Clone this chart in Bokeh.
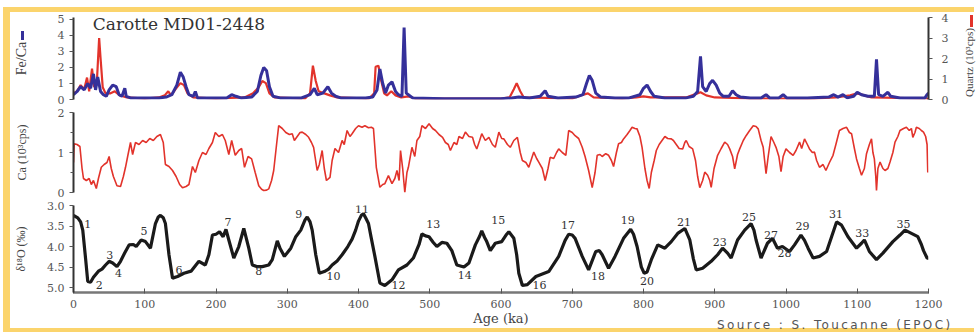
from bokeh.plotting import figure
from bokeh.layouts import column
from bokeh.models import Range1d, LinearAxis, FixedTicker, Label, NumeralTickFormatter, Div
from bokeh.core.properties import value
from bokeh.embed import file_html
from bokeh.resources import INLINE

# ---------------- data ----------------
fe_age = [0, 5, 10, 15, 20, 24, 28, 31, 34, 38, 42, 46, 50, 55, 60, 64, 68, 72, 74, 80, 100, 120, 130, 138,
          145, 150, 154, 158, 162, 168, 171, 174, 200, 215, 222, 228, 235, 250, 258, 263, 267, 271, 275, 280,
          290, 320, 332, 338, 342, 350, 357, 362, 368, 375, 410, 420, 426, 430, 434, 438, 442, 447, 452, 456,
          461, 464, 467, 470, 476, 520, 600, 615, 625, 640, 655, 662, 666, 680, 705, 715, 720, 724, 728, 733,
          740, 760, 780, 795, 800, 805, 810, 815, 830, 860, 870, 876, 880, 883, 888, 893, 897, 902, 907, 912,
          920, 925, 930, 936, 950, 965, 972, 977, 990, 996, 1001, 1030, 1060, 1067, 1073, 1080, 1086, 1095,
          1100, 1106, 1115, 1124, 1127, 1130, 1136, 1143, 1147, 1160, 1180, 1195, 1198, 1200]
fe_val = [0.3, 0.5, 0.8, 0.6, 1.0, 0.7, 1.6, 0.6, 1.4, 0.5, 0.3, 0.2, 0.6, 0.9, 0.8, 0.3, 0.2, 0.7, 0.2, 0.1,
          0.1, 0.1, 0.15, 0.3, 0.9, 1.7, 1.4, 0.8, 0.3, 0.2, 0.5, 0.1, 0.1, 0.1, 0.3, 0.2, 0.1, 0.15, 0.5, 1.5,
          2.0, 1.8, 0.8, 0.2, 0.1, 0.1, 0.3, 0.7, 0.3, 0.4, 0.8, 0.4, 0.2, 0.1, 0.1, 0.15, 0.6, 1.9, 1.0, 0.4,
          0.9, 1.1, 0.5, 0.3, 0.2, 4.5, 0.4, 0.3, 0.1, 0.05, 0.05, 0.1, 0.15, 0.1, 0.2, 0.55, 0.2, 0.1, 0.15,
          0.3, 1.0, 1.5, 1.2, 0.4, 0.15, 0.1, 0.1, 0.3, 0.7, 0.9, 0.5, 0.2, 0.1, 0.1, 0.2, 0.5, 2.7, 0.8, 0.5,
          1.0, 1.2, 0.9, 0.4, 0.2, 0.2, 0.55, 0.3, 0.15, 0.1, 0.1, 0.3, 0.1, 0.1, 0.3, 0.1, 0.1, 0.15, 0.3,
          0.15, 0.3, 0.1, 0.2, 0.45, 0.3, 0.2, 0.2, 2.5, 0.3, 0.2, 0.45, 0.2, 0.1, 0.1, 0.1, 0.3, 0.4]

qz_age = [0, 5, 10, 15, 19, 22, 26, 29, 33, 36, 38, 41, 45, 52, 58, 65, 75, 100, 120, 128, 133, 137, 143, 150,
          155, 160, 168, 200, 240, 252, 260, 265, 270, 275, 282, 325, 332, 336, 340, 344, 352, 360, 370, 415,
          422, 424, 428, 432, 436, 440, 446, 452, 460, 470, 480, 600, 612, 618, 622, 627, 632, 700, 712, 722,
          730, 770, 790, 800, 810, 860, 872, 880, 888, 900, 950, 1000, 1040, 1070, 1090, 1100, 1110, 1120, 1200]
qz_val = [0.3, 0.4, 0.7, 0.5, 1.07, 0.4, 1.5, 0.6, 1.0, 3.0, 2.0, 0.6, 0.3, 0.3, 0.4, 0.2, 0.1, 0.05, 0.1, 0.2,
          0.4, 0.2, 0.5, 0.8, 0.7, 0.3, 0.1, 0.05, 0.1, 0.3, 0.6, 0.9, 0.8, 0.3, 0.1, 0.05, 0.3, 1.65, 0.9, 0.4,
          0.3, 0.2, 0.1, 0.05, 0.3, 1.6, 1.65, 0.9, 0.3, 0.2, 0.4, 0.2, 0.1, 0.15, 0.05, 0.05, 0.1, 0.5, 0.8,
          0.4, 0.1, 0.05, 0.2, 0.3, 0.1, 0.05, 0.1, 0.15, 0.1, 0.1, 0.25, 0.35, 0.2, 0.1, 0.05, 0.05, 0.05, 0.1,
          0.2, 0.3, 0.2, 0.1, 0.05]

ca_age = [0, 1, 5, 9, 12, 14, 18, 22, 25, 28, 32, 35, 39, 43, 47, 50, 53, 56, 61, 66, 70, 73, 76, 80, 83, 87,
          92, 97, 102, 107, 112, 117, 122, 126, 129, 134, 139, 144, 149, 153, 158, 162, 167, 171, 176, 181,
          186, 190, 195, 199, 204, 209, 213, 218, 222, 227, 232, 236, 240, 245, 250, 255, 260, 264, 267, 271,
          274, 278, 281, 285, 288, 293, 298, 303, 307, 310, 314, 318, 321, 326, 330, 334, 337, 342, 345, 349,
          352, 355, 360, 363, 367, 372, 377, 380, 384, 388, 391, 396, 400, 405, 409, 414, 418, 421, 425, 430,
          434, 437, 442, 447, 451, 454, 457, 459, 462, 465, 468, 470, 475, 479, 482, 486, 489, 494, 499, 504,
          508, 513, 518, 522, 526, 529, 534, 538, 541, 546, 550, 555, 560, 563, 566, 570, 573, 578, 583, 588,
          592, 597, 601, 604, 609, 613, 618, 623, 627, 630, 635, 639, 643, 646, 650, 653, 658, 662, 666, 669,
          674, 678, 681, 686, 691, 695, 700, 704, 709, 714, 718, 723, 728, 732, 735, 739, 742, 747, 751, 755,
          758, 762, 765, 769, 772, 777, 781, 784, 788, 791, 795, 798, 802, 805, 808, 811, 815, 818, 822, 826,
          830, 834, 839, 842, 846, 850, 855, 858, 860, 864, 869, 873, 876, 879, 883, 886, 890, 893, 895, 899,
          904, 909, 914, 918, 921, 925, 928, 932, 935, 940, 944, 949, 954, 958, 961, 965, 968, 970, 972, 975,
          979, 983, 986, 990, 993, 996, 1000, 1005, 1010, 1014, 1019, 1022, 1026, 1030, 1033, 1037, 1040, 1043,
          1047, 1052, 1056, 1061, 1066, 1070, 1075, 1080, 1085, 1089, 1092, 1096, 1099, 1103, 1106, 1110,
          1113, 1117, 1120, 1122, 1124, 1126, 1127, 1129, 1132, 1136, 1139, 1143, 1146, 1150, 1153, 1157,
          1160, 1165, 1169, 1173, 1176, 1178, 1181, 1183, 1187, 1190, 1193, 1196, 1198, 1199]
ca_val = [0.75, 1.22, 1.2, 1.15, 0.6, 0.35, 0.3, 0.35, 0.2, 0.3, 0.1, 0.35, 0.63, 0.7, 0.75, 0.9, 0.6, 0.4,
          0.17, 0.15, 0.4, 0.63, 0.9, 1.25, 0.95, 1.25, 1.2, 1.3, 1.25, 1.35, 1.3, 1.4, 1.45, 1.25, 0.7, 0.65,
          0.55, 0.4, 0.2, 0.12, 0.15, 0.2, 0.65, 0.5, 0.8, 1.0, 0.95, 1.1, 1.25, 1.5, 1.4, 1.45, 1.3, 0.95, 1.3,
          0.93, 1.05, 1.1, 0.63, 0.9, 0.84, 0.5, 0.17, 0.08, 0.05, 0.06, 0.09, 0.3, 0.55, 1.2, 1.67, 1.6, 1.5,
          1.45, 1.47, 1.3, 1.4, 1.5, 1.51, 1.45, 1.38, 1.25, 1.13, 0.55, 0.7, 1.05, 0.6, 0.3, 0.38, 0.8, 1.1,
          1.0, 1.3, 1.2, 1.55, 1.4, 1.47, 1.6, 1.67, 1.63, 1.67, 1.62, 1.63, 1.6, 0.63, 0.13, 0.2, 0.22, 0.42,
          0.22, 0.35, 0.55, 0.3, 1.05, 0.6, 0.0, 0.5, 0.63, 1.13, 0.9, 1.3, 1.4, 1.67, 1.6, 1.72, 1.6, 1.55,
          1.45, 1.38, 1.25, 1.2, 1.05, 1.25, 1.2, 1.4, 1.35, 1.51, 1.4, 1.38, 1.2, 1.09, 1.3, 1.47, 1.3, 1.38,
          1.2, 1.13, 1.51, 1.35, 1.34, 1.2, 1.13, 1.3, 1.38, 1.0, 0.8, 0.75, 0.63, 0.85, 1.01, 0.85, 0.76, 0.6,
          0.3, 0.6, 0.88, 0.85, 1.0, 1.09, 1.0, 0.93, 1.55, 1.5, 1.42, 1.35, 1.13, 0.9, 0.55, 0.12, 0.5, 0.93,
          0.95, 0.9, 0.97, 0.93, 0.8, 0.65, 1.0, 1.22, 1.25, 1.34, 1.45, 1.55, 1.63, 1.6, 1.59, 1.4, 1.13, 0.6,
          0.3, 0.1, 0.5, 0.8, 1.05, 1.2, 1.3, 1.4, 1.35, 1.34, 1.3, 1.2, 1.1, 1.09, 1.25, 1.3, 1.15, 1.09, 0.8,
          0.4, 0.12, 0.3, 0.51, 0.43, 0.3, 0.13, 0.6, 0.93, 1.1, 1.26, 1.2, 1.09, 0.9, 0.59, 0.95, 1.09, 1.3,
          1.42, 1.55, 1.67, 1.65, 1.59, 1.3, 1.13, 0.8, 0.47, 0.9, 1.4, 1.25, 1.13, 0.9, 0.52, 0.9, 1.09, 1.0,
          0.93, 1.05, 1.26, 1.1, 1.34, 1.2, 1.09, 1.0, 1.01, 0.8, 0.63, 0.7, 0.55, 0.75, 0.93, 1.2, 1.55, 1.6,
          1.63, 1.5, 1.47, 1.1, 0.84, 0.6, 0.43, 0.6, 0.97, 1.2, 1.34, 1.0, 0.84, 0.4, 0.05, 0.6, 0.76, 0.6,
          0.55, 0.6, 0.76, 1.0, 1.26, 1.4, 1.55, 1.6, 1.63, 1.55, 1.6, 1.38, 1.5, 1.63, 1.6, 1.55, 1.51, 1.4,
          1.2, 0.5]

d18_age = [0, 6, 10, 13, 17, 20, 24, 28, 35, 40, 45, 50, 55, 61, 66, 72, 78, 84, 88, 95, 101, 108, 115, 119,
           122, 126, 129, 134, 139, 146, 155, 165, 176, 185, 190, 195, 200, 205, 210, 214, 218, 225, 232, 239,
           246, 251, 258, 265, 274, 279, 286, 290, 296, 305, 312, 319, 325, 328, 332, 335, 340, 345, 352, 358,
           363, 370, 377, 385, 391, 396, 400, 404, 407, 410, 414, 418, 423, 430, 437, 447, 456, 468, 477, 485,
           489, 494, 499, 505, 510, 517, 524, 531, 538, 548, 555, 564, 570, 573, 577, 580, 585, 592, 601, 608,
           611, 618, 622, 625, 630, 637, 649, 667, 681, 690, 695, 700, 704, 714, 723, 733, 738, 742, 751, 760,
           772, 782, 786, 791, 797, 801, 805, 811, 820, 830, 839, 848, 858, 865, 870, 874, 883, 895, 904, 911,
           918, 923, 932, 942, 951, 955, 958, 965, 974, 981, 988, 995, 1005, 1012, 1021, 1026, 1031, 1038,
           1047, 1057, 1064, 1071, 1078, 1087, 1099, 1106, 1110, 1117, 1127, 1136, 1150, 1160, 1167, 1176,
           1185, 1190, 1193, 1198, 1200]
d18_val = [3.24, 3.3, 3.4, 3.6, 4.3, 4.85, 4.87, 4.75, 4.6, 4.55, 4.45, 4.36, 4.4, 4.49, 4.36, 4.15, 3.96,
           3.95, 4.0, 3.84, 3.88, 4.04, 3.44, 3.28, 3.24, 3.3, 3.44, 4.2, 4.77, 4.73, 4.65, 4.6, 4.36, 4.45,
           4.2, 3.72, 3.7, 3.64, 3.76, 3.58, 3.84, 4.28, 4.0, 3.56, 4.04, 4.45, 4.49, 4.49, 4.45, 4.32, 3.86,
           4.05, 4.24, 4.04, 3.76, 3.6, 3.35, 3.28, 3.4, 3.6, 4.2, 4.65, 4.61, 4.55, 4.45, 4.35, 4.2, 4.0, 3.82,
           3.6, 3.38, 3.24, 3.2, 3.3, 3.44, 3.8, 4.24, 4.89, 4.95, 4.81, 4.57, 4.45, 4.28, 3.95, 3.69, 3.74,
           3.76, 3.9, 4.0, 3.9, 3.92, 4.1, 4.45, 4.5, 4.4, 3.96, 3.75, 3.62, 3.78, 3.88, 4.1, 3.92, 3.88, 3.7,
           3.64, 3.8, 4.2, 4.65, 4.95, 4.93, 4.73, 4.61, 4.24, 3.85, 3.7, 3.72, 3.8, 4.24, 4.57, 4.12, 4.1, 4.2,
           4.53, 4.24, 3.8, 3.58, 3.7, 4.0, 4.5, 4.65, 4.62, 4.32, 3.96, 4.04, 3.88, 3.68, 3.56, 3.84, 4.3,
           4.57, 4.53, 4.36, 4.2, 4.04, 4.16, 4.28, 3.84, 3.6, 3.44, 3.6, 3.84, 4.28, 3.92, 3.8, 4.04, 4.0,
           4.12, 3.96, 3.72, 3.85, 4.04, 4.28, 4.24, 4.12, 3.76, 3.4, 3.48, 3.76, 4.04, 3.92, 3.84, 4.12, 4.32,
           4.16, 3.88, 3.72, 3.6, 3.68, 3.76, 3.95, 4.1, 4.28, 4.28]

mis_text = ["1", "2", "3", "4", "5", "6", "7", "8", "9", "10", "11", "12", "13", "14", "15", "16", "17", "18",
            "19", "20", "21", "23", "25", "27", "28", "29", "31", "33", "35"]
mis_age = [20, 36, 51, 63, 99, 148, 217, 260, 316, 365, 405, 456, 505, 549, 596, 654, 694, 736, 778, 805,
           857, 907, 948, 979, 998, 1023, 1070, 1107, 1165]
mis_val = [3.46, 4.93, 4.2, 4.64, 3.63, 4.56, 3.39, 4.6, 3.2, 4.73, 3.08, 4.93, 3.44, 4.69, 3.36, 4.93, 3.48,
           4.73, 3.36, 4.85, 3.39, 3.9, 3.29, 3.72, 4.16, 3.5, 3.2, 3.67, 3.44]

x_ticks = [0, 100, 200, 300, 400, 500, 600, 700, 800, 900, 1000, 1100, 1200]
fe_ticks = [0, 1, 2, 3, 4, 5]
qz_ticks = [0, 1, 2, 3, 4]
ca_ticks = [0, 1, 2]
ca_minor = [0.5, 1.5]
d18_ticks = [3.0, 3.5, 4.0, 4.5, 5.0]

# ---------------- styling ----------------
BLUE = "#35309a"
RED = "#e2332b"
YELLOW = "#fbd46c"
SERIF = "DejaVu Serif"
LABEL_SERIF = "Liberation Serif"
TICK_COLOR = "#555555"
FIG_W = 964

xr = Range1d(0, 1200)


def base_fig(height, top, bottom, yr, x_axis=False):
    p = figure(width=FIG_W, height=height, x_range=xr, y_range=yr,
               output_backend="svg", toolbar_location=None,
               x_axis_location="below" if x_axis else None,
               min_border_left=61, min_border_right=FIG_W - 61 - 857,
               min_border_top=top, min_border_bottom=bottom)
    p.outline_line_color = None
    p.grid.visible = False
    p.background_fill_color = "white"
    p.border_fill_color = "white"
    return p


def style_y(ax, ticks, label, font_size, standoff):
    ax.ticker = FixedTicker(ticks=ticks)
    ax.axis_label = label
    ax.axis_label_text_font = LABEL_SERIF
    ax.axis_label_text_font_size = font_size
    ax.axis_label_text_font_style = "normal"
    ax.axis_label_text_color = "#444444"
    ax.axis_label_standoff = standoff
    ax.major_label_text_font = SERIF
    ax.major_label_text_font_size = "11px"
    ax.major_label_text_color = TICK_COLOR
    ax.major_label_standoff = 5
    ax.axis_line_color = "#333333"
    ax.axis_line_width = 2
    ax.major_tick_line_color = "#555555"
    ax.major_tick_out = 4
    ax.major_tick_in = 0
    ax.minor_tick_line_color = None


# ---------------- top panel: Fe/Ca + Quartz ----------------
p1 = base_fig(93, 5, 6, Range1d(0, 5.12))
p1.extra_y_ranges = {"qz": Range1d(0, 4.0)}
p1.line(qz_age, qz_val, y_range_name="qz", line_color=RED, line_width=2.2)
p1.line(fe_age, fe_val, line_color=BLUE, line_width=3)
style_y(p1.yaxis[0], fe_ticks, "Fe/Ca", "14px", 26)

ax_r = LinearAxis(y_range_name="qz")
style_y(ax_r, qz_ticks, None, "11px", 0)
ax_r.major_label_standoff = 9
p1.add_layout(ax_r, "right")

p1.add_layout(Label(x=27, y=4.72, text="Carotte MD01-2448", text_font=SERIF,
                    text_font_size="17px", text_color="#333333", text_baseline="middle"))

# ---------------- middle panel: Ca ----------------
p2 = base_fig(93, 7, 6, Range1d(0, 2))
p2.line(ca_age, ca_val, line_color=RED, line_width=1.6)
style_y(p2.yaxis[0], ca_ticks, "Ca (10\u00b3cps)", "12px", 26)
p2.yaxis[0].ticker = FixedTicker(ticks=ca_ticks, minor_ticks=ca_minor)
p2.yaxis[0].minor_tick_line_color = "#555555"
p2.yaxis[0].minor_tick_out = 3
p2.yaxis[0].minor_tick_in = 0

# ---------------- bottom panel: d18O ----------------
p3 = base_fig(130, 7, 35, Range1d(5.12, 3.0), x_axis=True)
p3.line(d18_age, d18_val, line_color="#1a1a1a", line_width=3.2)
p3.text(x=mis_age, y=mis_val, text=mis_text, text_font=value(SERIF), text_font_size="11px",
        text_color="#333333", text_align="center", text_baseline="middle")
style_y(p3.yaxis[0], d18_ticks, "\u03b4\u00b9\u2078O (\u2030)", "12px", 16)
p3.yaxis[0].formatter = NumeralTickFormatter(format="0.0")

xa = p3.xaxis[0]
xa.ticker = FixedTicker(ticks=x_ticks)
xa.axis_line_color = "#777777"
xa.axis_line_width = 2.5
xa.major_tick_line_color = "#555555"
xa.major_tick_in = 4
xa.major_tick_out = 1
xa.minor_tick_line_color = None
xa.major_label_text_font = SERIF
xa.major_label_text_font_size = "11px"
xa.major_label_text_color = TICK_COLOR
xa.major_label_standoff = 6
xa.axis_label = "Age (ka)"
xa.axis_label_text_font = SERIF
xa.axis_label_text_font_size = "13px"
xa.axis_label_text_font_style = "normal"
xa.axis_label_text_color = "#444444"
xa.axis_label_standoff = 0

# ---------------- decorations outside the frames (HTML, absolutely placed) ----------------
KEY_STYLE = {"position": "absolute", "font-size": "0px", "line-height": "0px"}
blue_key = Div(text=f'<div style="width:3px;height:9px;background:{BLUE}"></div>', width=3, height=9,
               margin=0, styles=dict(KEY_STYLE, left="11px", top="19px"))
red_key = Div(text=f'<div style="width:3px;height:12px;background:{RED}"></div>', width=3, height=12,
              margin=0, styles=dict(KEY_STYLE, left="960px", top="3px"))
quartz_label = Div(text='<div style="writing-mode:vertical-rl;transform:rotate(180deg);'
                        'font-family:\'Liberation Serif\';font-size:11px;line-height:12px;color:#444444;'
                        'white-space:nowrap">Quartz (10\u00b3cps)</div>',
                   width=12, height=76, margin=0,
                   styles={"position": "absolute", "left": "953px", "top": "16px",
                           "font-size": "11px", "line-height": "12px"})
source = Div(text='<div style="font-family:\'DejaVu Sans\';font-size:12px;line-height:12px;color:#555555;'
                  'letter-spacing:2.4px;white-space:nowrap">Source : S. Toucanne (EPOC)</div>',
             width=250, height=12, margin=0,
             styles={"position": "absolute", "left": "707px", "top": "307px",
                     "font-size": "12px", "line-height": "12px"})

layout = column(p1, p2, p3, blue_key, red_key, quartz_label, source, spacing=0,
                styles={"margin-top": "7px", "margin-left": "3px",
                        "border-top": f"5px solid {YELLOW}", "border-left": f"7px solid {YELLOW}",
                        "border-bottom": f"4px solid {YELLOW}", "background-color": "white",
                        "position": "relative"})

open("out.html", "w").write(file_html(layout, INLINE))
